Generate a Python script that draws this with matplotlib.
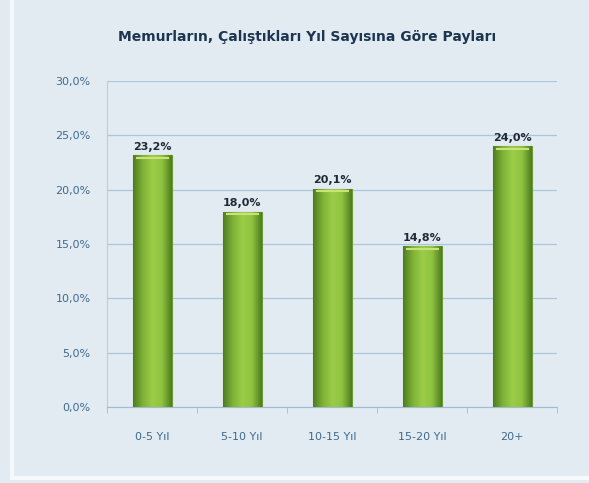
import numpy as np
import matplotlib
matplotlib.use("Agg")
import matplotlib.pyplot as plt
from matplotlib.colors import LinearSegmentedColormap
from matplotlib.lines import Line2D

categories = ["0-5 Yıl", "5-10 Yıl", "10-15 Yıl", "15-20 Yıl", "20+"]
values = [23.2, 18.0, 20.1, 14.8, 24.0]
value_labels = ["23,2%", "18,0%", "20,1%", "14,8%", "24,0%"]
yticks = [0, 5, 10, 15, 20, 25, 30]
ytick_labels = ["0,0%", "5,0%", "10,0%", "15,0%", "20,0%", "25,0%", "30,0%"]
title = "Memurların, Çalıştıkları Yıl Sayısına Göre Payları"

plt.rcParams['font.family'] = ['Liberation Sans Narrow', 'DejaVu Sans']

bg = "#e3ebf2"
fig = plt.figure(figsize=(5.89, 4.83), dpi=100, facecolor=bg)

# light frame edges like the screenshot
fig.add_artist(Line2D([0.02, 0.02], [0.01, 1], transform=fig.transFigure,
                      color="#f7fafc", lw=3))
fig.add_artist(Line2D([0.02, 1], [0.01, 0.01], transform=fig.transFigure,
                      color="#f7fafc", lw=3))

ax = fig.add_axes([0.182, 0.157, 0.764, 0.675])
ax.set_facecolor(bg)

x = np.arange(len(categories))
width = 0.43
bars = ax.bar(x, values, width=width, color="#86bb3a", edgecolor="#6b9a2e",
              linewidth=0.8, zorder=3)

# cylinder-like shading inside each bar
cmap = LinearSegmentedColormap.from_list(
    "g", ["#4e7d22", "#7fb236", "#9ccd48", "#8fc33f", "#4e7d22"])
grad = np.linspace(0, 1, 64).reshape(1, -1)
for b in bars:
    x0, w, h = b.get_x(), b.get_width(), b.get_height()
    im = ax.imshow(grad, cmap=cmap, aspect="auto", extent=(x0, x0 + w, 0, h),
                   zorder=3.5, interpolation="bicubic")
    im.set_clip_path(b)
    ax.plot([x0 + 0.03, x0 + w - 0.03], [h - 0.25, h - 0.25],
            color="#c9e27a", lw=1.5, zorder=4, solid_capstyle="butt")

for xi, v, lab in zip(x, values, value_labels):
    ax.text(xi, v + 0.3, lab, ha="center", va="bottom", fontsize=8,
            fontweight="bold", color="#1f2a36", zorder=5)

ax.set_xlim(-0.5, len(categories) - 0.5)
ax.set_ylim(0, 30)
ax.set_yticks(yticks)
ax.set_yticklabels(ytick_labels)
ax.set_xticks(x)
ax.set_xticklabels(categories)
ax.set_xticks(np.arange(-0.5, len(categories), 1), minor=True)
ax.tick_params(axis="x", which="major", length=0, pad=18, labelsize=8,
               labelcolor="#3f6a8c")
ax.tick_params(axis="x", which="minor", length=4, color="#9dbcd6")
ax.tick_params(axis="y", length=0, pad=12, labelsize=8, labelcolor="#3f6a8c")

ax.grid(axis="y", color="#a9c6df", lw=0.9, zorder=0)
for s in ["top", "right"]:
    ax.spines[s].set_visible(False)
ax.spines["left"].set_color("#b7cfe3")
ax.spines["bottom"].set_color("#9dbcd6")

fig.text(0.522, 0.923, title, ha="center", va="center", fontsize=10,
         fontweight="bold", color="#1d3550")

fig.savefig("out.png", dpi=100, facecolor=bg)
